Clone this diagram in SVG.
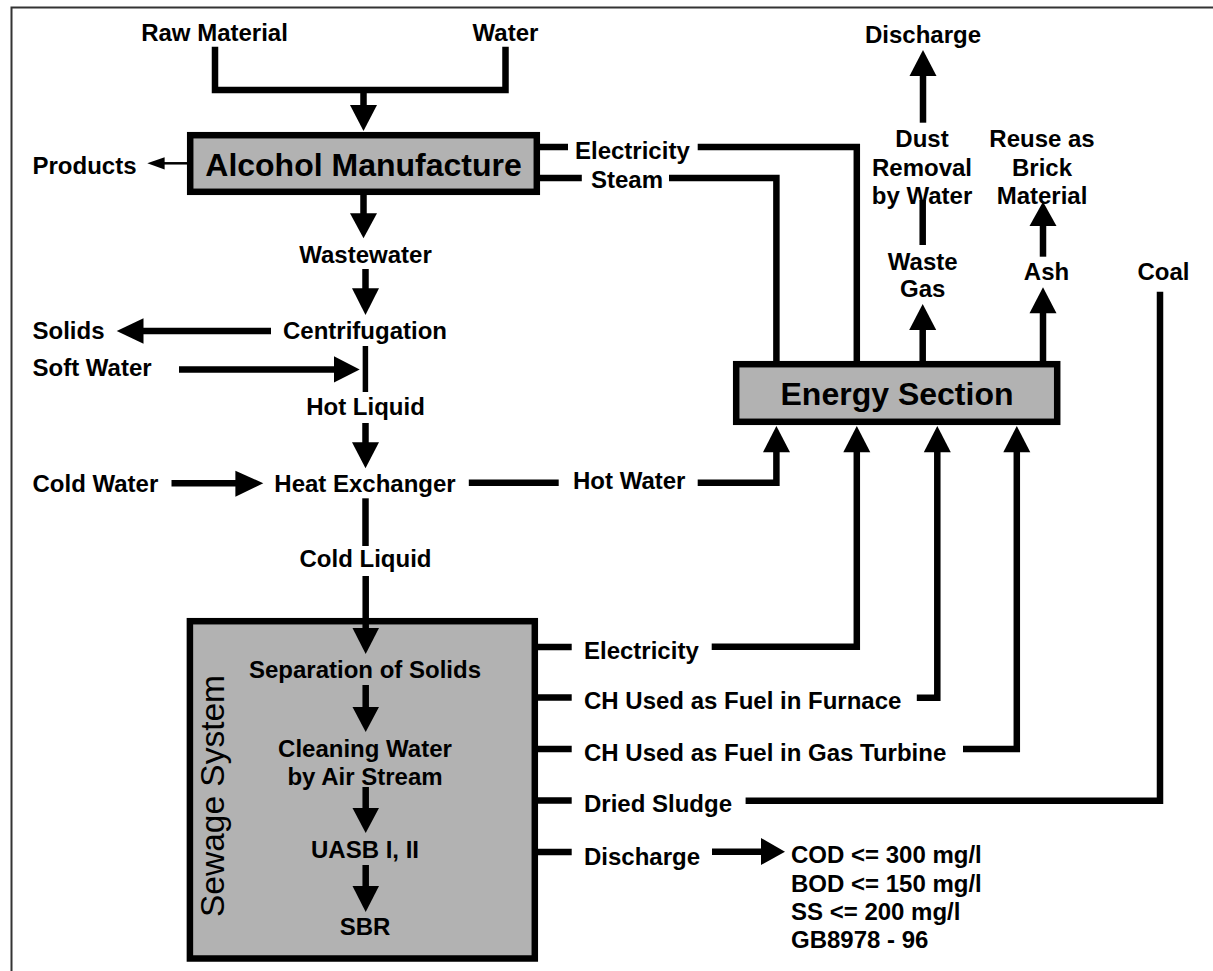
<svg xmlns="http://www.w3.org/2000/svg" width="1213" height="971" viewBox="0 0 1213 971">
<style>
text{font-family:"Liberation Sans",Arial,sans-serif;font-weight:bold;font-size:24px;fill:#000}
.c{text-anchor:middle}
.big{font-size:32px}
.box{fill:#b2b2b2;stroke:#000;stroke-width:6.5}
.ln{fill:none;stroke:#000;stroke-width:6.5;stroke-linejoin:miter;stroke-linecap:butt}
.th{fill:none;stroke:#000;stroke-width:5.5}
.hd{fill:#000}
.frame{fill:none;stroke:#333;stroke-width:2}
</style>
<rect x="0" y="0" width="1213" height="971" fill="#fff"/>
<path class="frame" d="M11.5,971 V7.5 H1213"/>

<g id="raw-material"><text class="c" x="214.5" y="41">Raw Material</text></g>
<g id="water"><text class="c" x="505.5" y="41">Water</text></g>
<g id="alcohol-manufacture">
<rect class="box" x="190.2" y="135.2" width="346.6" height="56.6"/>
<text class="c big" x="363.5" y="175.5">Alcohol Manufacture</text>
</g>
<g id="products"><text x="32.5" y="174">Products</text></g>
<g id="electricity-top"><text x="575" y="159">Electricity</text></g>
<g id="steam"><text x="591" y="188">Steam</text></g>
<g id="discharge-top"><text class="c" x="923" y="43">Discharge</text></g>
<g id="dust-removal"><text class="c" x="922" y="147">Dust</text><text class="c" x="922" y="175.5">Removal</text><text class="c" x="922" y="204">by Water</text></g>
<g id="reuse-brick"><text class="c" x="1042" y="147">Reuse as</text><text class="c" x="1042" y="175.5">Brick</text><text class="c" x="1042" y="204">Material</text></g>
<g id="waste-gas"><text class="c" x="922.7" y="269.5">Waste</text><text class="c" x="922.7" y="297">Gas</text></g>
<g id="ash"><text class="c" x="1046.5" y="280">Ash</text></g>
<g id="coal"><text class="c" x="1163.5" y="280">Coal</text></g>
<g id="wastewater"><text class="c" x="365.5" y="263">Wastewater</text></g>
<g id="centrifugation"><text class="c" x="365" y="339">Centrifugation</text></g>
<g id="solids"><text x="32.5" y="339">Solids</text></g>
<g id="soft-water"><text x="32.5" y="376">Soft Water</text></g>
<g id="hot-liquid"><text class="c" x="365.5" y="415">Hot Liquid</text></g>
<g id="cold-water"><text x="32.5" y="492">Cold Water</text></g>
<g id="heat-exchanger"><text class="c" x="365" y="492">Heat Exchanger</text></g>
<g id="hot-water"><text x="573" y="489">Hot Water</text></g>
<g id="energy-section">
<rect class="box" x="736.2" y="364.2" width="321" height="57.6"/>
<text class="c big" x="897" y="405">Energy Section</text>
</g>
<g id="cold-liquid"><text class="c" x="365.5" y="567">Cold Liquid</text></g>
<g id="sewage-system">
<rect class="box" x="189.9" y="621.2" width="344.9" height="337.3"/>
<text class="c" x="224" y="796" transform="rotate(-90 224 796)" style="font-weight:normal;font-size:33.5px">Sewage System</text>
<text class="c" x="365" y="678">Separation of Solids</text>
<text class="c" x="365" y="757">Cleaning Water</text>
<text class="c" x="365" y="785">by Air Stream</text>
<text class="c" x="365" y="858">UASB I, II</text>
<text class="c" x="365" y="935">SBR</text>
</g>
<g id="electricity-low"><text x="584" y="658.5">Electricity</text></g>
<g id="ch-furnace"><text x="584" y="709">CH Used as Fuel in Furnace</text></g>
<g id="ch-turbine"><text x="584" y="761">CH Used as Fuel in Gas Turbine</text></g>
<g id="dried-sludge"><text x="584" y="812">Dried Sludge</text></g>
<g id="discharge-low"><text x="584" y="865">Discharge</text></g>
<g id="limits">
<text x="791" y="863">COD &lt;= 300 mg/l</text>
<text x="791" y="892">BOD &lt;= 150 mg/l</text>
<text x="791" y="920">SS &lt;= 200 mg/l</text>
<text x="791" y="948">GB8978 - 96</text>
</g>

<g id="connectors">
<path class="ln" d="M215,46.7 V90 H505.5 V46.7"/>
<path class="ln" d="M363.5,90 V106"/><polygon class="hd" points="350,105 377,105 363.5,131"/>
<path d="M187,163.3 H163" stroke="#000" stroke-width="2.5"/><polygon class="hd" points="164.6,157.3 164.6,169.5 147.3,163.3"/>
<path class="ln" d="M363.5,195 V214"/><polygon class="hd" points="350,213.3 377,213.3 363.5,238.3"/>
<path class="ln" d="M365.5,269 V289"/><polygon class="hd" points="352,288.3 379,288.3 365.5,315"/>
<path class="ln" d="M271,331 H142"/><polygon class="hd" points="143.5,318.2 143.5,343.8 116.7,331"/>
<path class="ln" d="M179,369.5 H335"/><polygon class="hd" points="334,356.3 334,382.5 359.7,369.5"/>
<path class="th" d="M365.4,346 V392"/>
<path class="ln" d="M365.5,423 V443"/><polygon class="hd" points="352,442.3 379,442.3 365.5,468.3"/>
<path class="ln" d="M171.5,483.3 H236"/><polygon class="hd" points="235.4,470.7 235.4,496.7 263.3,483.3"/>
<path class="ln" d="M468.8,482.8 H558.7"/>
<path class="ln" d="M697.7,482.8 H776.4 V451"/><polygon class="hd" points="763,452.3 790,452.3 776.4,426"/>
<path class="ln" d="M365.5,498.3 V546"/>
<path class="ln" d="M365.7,576 V629"/><polygon class="hd" points="352.5,628 379,628 365.7,654"/>
<path class="ln" d="M365.7,685 V708"/><polygon class="hd" points="352.5,707 379,707 365.7,732"/>
<path class="ln" d="M365.7,787 V809"/><polygon class="hd" points="352.5,808 379,808 365.7,833"/>
<path class="ln" d="M365.7,865 V887"/><polygon class="hd" points="352.5,886 379,886 365.7,912"/>
<path class="ln" d="M537,147 H568"/>
<path class="ln" d="M697.7,147 H856.8 V362"/>
<path class="ln" d="M537,178 H581.8"/>
<path class="ln" d="M669,178 H776.4 V362"/>
<path class="ln" d="M922.7,362 V329"/><polygon class="hd" points="909.2,330 936.2,330 922.7,304"/>
<path class="ln" d="M922.7,245 V200"/>
<path class="ln" d="M923,122.7 V75"/><polygon class="hd" points="909.5,76 936.5,76 923,50"/>
<path class="ln" d="M1043,362 V312"/><polygon class="hd" points="1029.5,313.3 1056.5,313.3 1043,287.3"/>
<path class="ln" d="M1043,256.7 V225"/><polygon class="hd" points="1029.5,226 1056.5,226 1043,201.7"/>
<path class="ln" d="M1160,291.7 V800.7 H745.6"/>
<path class="ln" d="M711.7,646.7 H856.8 V451"/><polygon class="hd" points="843.3,452.3 870.3,452.3 856.8,426"/>
<path class="ln" d="M916.8,697.7 H937.3 V451"/><polygon class="hd" points="923.8,452.3 950.8,452.3 937.3,426"/>
<path class="ln" d="M963,749 H1016.8 V451"/><polygon class="hd" points="1003.3,452.3 1030.3,452.3 1016.8,426"/>
<path class="ln" d="M537,647 H571.7 M537,697.5 H571.7 M537,749 H571.7 M537,800.5 H571.7 M537,852 H571.7"/>
<path class="ln" d="M712,851.7 H762"/><polygon class="hd" points="761,838 761,865 785,851.7"/>
</g>
</svg>
